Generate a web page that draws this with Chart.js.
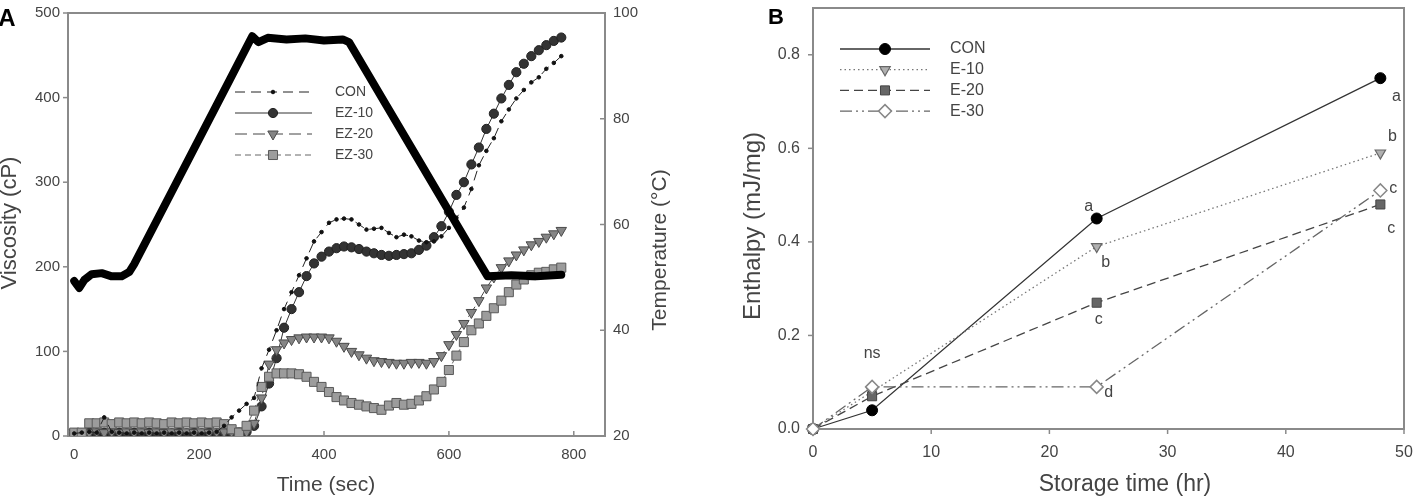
<!DOCTYPE html>
<html>
<head>
<meta charset="utf-8">
<script src="https://cdn.jsdelivr.net/npm/chart.js@4.4.1/dist/chart.umd.min.js"></script>
<style>
  html, body { margin: 0; padding: 0; background: #fff; }
  #wrap { position: relative; width: 1420px; height: 496px; overflow: hidden; }
  #boxA { position: absolute; left: 0; top: 0; width: 700px; height: 496px; }
  #boxB { position: absolute; left: 700px; top: 0; width: 720px; height: 496px; }
</style>
</head>
<body>
<div id="wrap">
  <div id="boxA"><canvas id="chartA" width="700" height="496"></canvas></div>
  <div id="boxB"><canvas id="chartB" width="720" height="496"></canvas></div>
</div>
<script>
// ---- panel A: viscosity profiles (cP) vs time (sec) ----
const timeSec = [0, 12, 24, 36, 48, 60, 72, 84, 96, 108,
  120, 132, 144, 156, 168, 180, 192, 204, 216, 228,
  240, 252, 264, 276, 288, 300, 312, 324, 336, 348,
  360, 372, 384, 396, 408, 420, 432, 444, 456, 468,
  480, 492, 504, 516, 528, 540, 552, 564, 576, 588,
  600, 612, 624, 636, 648, 660, 672, 684, 696, 708,
  720, 732, 744, 756, 768, 780];

const viscCON = [3, 4, 5, 4, 22, 5, 4, 3, 4, 3,
  4, 3, 4, 3, 4, 3, 4, 3, 4, 5,
  12, 22, 30, 38, 45, 80, 102, 125, 150, 170,
  190, 210, 230, 241, 252, 256, 257, 256, 250, 244,
  245, 246, 240, 235, 238, 236, 231, 229, 230, 236,
  246, 258, 270, 292, 320, 337, 352, 372, 386, 399,
  409, 418, 424, 434, 441, 449];

const viscEZ10 = [3, 3, 4, 3, 4, 3, 4, 3, 4, 3,
  4, 3, 4, 3, 4, 3, 4, 3, 4, 3,
  4, 4, 4, 5, 12, 35, 62, 92, 128, 150,
  170, 189, 204, 212, 218, 222, 224, 223, 221, 218,
  216, 214, 213, 214, 215, 216, 220, 225, 235, 248,
  265, 285, 300, 321, 341, 363, 381, 399, 415, 430,
  440, 449, 456, 462, 467, 471];

const viscEZ20 = [4, 5, 4, 5, 4, 5, 4, 5, 4, 5,
  4, 5, 4, 5, 4, 5, 4, 5, 4, 5,
  5, 5, 6, 5, 15, 45, 85, 102, 110, 114,
  116, 117, 117, 117, 116, 112, 106, 100, 96, 92,
  89, 88, 87, 86, 86, 87, 87, 86, 88, 95,
  108, 120, 133, 146, 160, 175, 188, 199, 207, 214,
  220, 226, 230, 235, 239, 243];

const viscEZ30 = [4, 4, 15, 15, 16, 14, 16, 15, 16, 15,
  16, 15, 14, 16, 15, 16, 15, 16, 15, 16,
  14, 8, 4, 12, 30, 58, 70, 74, 74, 74,
  73, 70, 64, 58, 52, 46, 42, 39, 37, 35,
  33, 31, 36, 39, 37, 38, 42, 47, 55, 64,
  78, 95, 111, 125, 133, 142, 151, 160, 170, 179,
  185, 190, 193, 194, 197, 199];

// temperature programme (right axis, deg C)
const tempTime = [0, 8, 16, 28, 44, 60, 76, 88, 96, 150, 200, 250, 285, 295,
  310, 340, 370, 400, 430, 440, 500, 550, 600, 640, 662, 700, 740, 780];
const tempC = [49.3, 48.0, 49.5, 50.6, 50.8, 50.2, 50.2, 51.0, 52.5, 64.8, 76.2, 87.6, 95.6, 94.5,
  95.3, 95.0, 95.2, 94.8, 95.0, 94.5, 82.5, 72.5, 62.5, 54.5, 50.2, 50.4, 50.2, 50.5];

const ticksTimeA = [0, 200, 400, 600, 800];
const ticksViscA = [0, 100, 200, 300, 400, 500];
const ticksTempA = [20, 40, 60, 80, 100];

// ---- panel B: enthalpy (mJ/mg) vs storage time (hr) ----
const storageHr = [0, 5, 24, 48];
const enthCON = [0, 0.04, 0.45, 0.75];
const enthE10 = [0, 0.08, 0.39, 0.59];
const enthE20 = [0, 0.07, 0.27, 0.48];
const enthE30 = [0, 0.09, 0.09, 0.51];

const ticksHrB = [0, 10, 20, 30, 40, 50];
const ticksEnthB = [0, 0.2, 0.4, 0.6, 0.8];

// significance letters, attached to a series and point index
const noteSeries = ["CON", "CON", "E-10", "E-10", "E-20", "E-20", "E-30", "E-30", "E-30"];
const notePoint = [2, 3, 2, 3, 2, 3, 1, 2, 3];
const noteText = ["a", "a", "b", "b", "c", "c", "ns", "d", "c"];

const FONT = '"Liberation Sans", Arial, sans-serif';
const AXIS_GRAY = "#8a8a8a";
Chart.defaults.font.family = FONT;
Chart.defaults.color = "#444";

function pts(xs, ys) {
  return xs.map((x, i) => ({ x, y: ys[i] }));
}

function noPad(s) {
  s.paddingTop = 0;
  s.paddingBottom = 0;
  s.paddingLeft = 0;
  s.paddingRight = 0;
}

function axis(ticksList, extra) {
  return {
    type: "linear",
    grid: { display: false, drawTicks: false },
    border: { display: false },
    afterBuildTicks: (scale) => {
      scale.ticks = ticksList.map((v) => ({ value: v }));
    },
    ...extra,
  };
}

const decorCfg = {
  chartA: {
    tickMarks: [{ id: "x", dir: "in" }, { id: "y", dir: "out" }, { id: "yT", dir: "in" }],
    legend: { x1: 235, x2: 312, xm: 273, xt: 335, y0: 92, dy: 21, font: "14px " + FONT },
    titles: [
      { text: "Viscosity (cP)", x: 10, y: 223, rot: true, font: "22px " + FONT },
      { text: "Time (sec)", x: 326, y: 485, font: "21px " + FONT },
      { text: "Temperature (\u00B0C)", x: 660, y: 250, rot: true, font: "21px " + FONT },
      { text: "A", x: 7, y: 19, font: "bold 24px " + FONT, color: "#000" },
    ],
  },
  chartB: {
    tickMarks: [{ id: "x", dir: "out" }, { id: "y", dir: "out" }],
    legend: { x1: 140, x2: 230, xm: 185, xt: 250, y0: 49, dy: 20.7, font: "16px " + FONT },
    titles: [
      { text: "Enthalpy (mJ/mg)", x: 53, y: 226, rot: true, font: "24px " + FONT },
      { text: "Storage time (hr)", x: 425, y: 485, font: "23px " + FONT },
      { text: "B", x: 76, y: 18, font: "bold 22px " + FONT, color: "#000" },
    ],
    notes: { font: "16px " + FONT, offsets: [[-8, -12], [16, 18], [9, 16], [12, -16], [2, 17], [11, 24], [0, -33], [12, 6], [13, -2]] },
  },
};

const decor = {
  id: "decor",
  beforeDatasetsDraw(chart) {
    const cfg = decorCfg[chart.canvas.id];
    const { ctx, chartArea: a } = chart;
    ctx.save();
    ctx.strokeStyle = AXIS_GRAY;
    ctx.lineWidth = 2;
    ctx.strokeRect(a.left, a.top, a.right - a.left, a.bottom - a.top);
    ctx.lineWidth = 1.5;
    cfg.tickMarks.forEach(({ id, dir }) => {
      const s = chart.scales[id];
      const len = dir === "in" ? -5 : 5;
      s.ticks.forEach((t) => {
        const p = s.getPixelForValue(t.value);
        ctx.beginPath();
        if (s.isHorizontal()) {
          ctx.moveTo(p, a.bottom);
          ctx.lineTo(p, a.bottom + len);
        } else if (s.position === "left") {
          ctx.moveTo(a.left, p);
          ctx.lineTo(a.left - len, p);
        } else {
          ctx.moveTo(a.right, p);
          ctx.lineTo(a.right + len, p);
        }
        ctx.stroke();
      });
    });
    ctx.restore();
  },
  afterDatasetsDraw(chart) {
    const cfg = decorCfg[chart.canvas.id];
    const ctx = chart.ctx;
    ctx.save();

    // legend: line sample + marker + label
    const lg = cfg.legend;
    chart.data.datasets
      .filter((d) => d.legendRank !== undefined)
      .sort((p, q) => p.legendRank - q.legendRank)
      .forEach((d, i) => {
        const y = lg.y0 + i * lg.dy;
        ctx.strokeStyle = d.borderColor;
        ctx.lineWidth = d.borderWidth;
        ctx.setLineDash(d.borderDash || []);
        ctx.beginPath();
        ctx.moveTo(lg.x1, y);
        ctx.lineTo(lg.x2, y);
        ctx.stroke();
        ctx.setLineDash([]);
        ctx.fillStyle = d.pointBackgroundColor;
        ctx.strokeStyle = d.pointBorderColor;
        ctx.lineWidth = d.pointBorderWidth;
        Chart.helpers.drawPoint(ctx, {
          pointStyle: d.pointStyle,
          radius: d.pointRadius,
          rotation: d.pointRotation || 0,
          borderWidth: d.pointBorderWidth,
        }, lg.xm, y);
        ctx.fillStyle = "#444";
        ctx.font = lg.font;
        ctx.textAlign = "left";
        ctx.textBaseline = "middle";
        ctx.fillText(d.label, lg.xt, y);
      });

    // letters beside the points
    if (cfg.notes) {
      ctx.font = cfg.notes.font;
      ctx.fillStyle = "#444";
      ctx.textAlign = "center";
      ctx.textBaseline = "middle";
      noteText.forEach((txt, i) => {
        const di = chart.data.datasets.findIndex((d) => d.label === noteSeries[i]);
        const el = chart.getDatasetMeta(di).data[notePoint[i]];
        const [dx, dy] = cfg.notes.offsets[i];
        ctx.fillText(txt, el.x + dx, el.y + dy);
      });
    }

    // axis titles and panel letter
    cfg.titles.forEach((t) => {
      ctx.save();
      ctx.font = t.font;
      ctx.fillStyle = t.color || "#444";
      ctx.textAlign = "center";
      ctx.textBaseline = "middle";
      ctx.translate(t.x, t.y);
      if (t.rot) ctx.rotate(-Math.PI / 2);
      ctx.fillText(t.text, 0, 0);
      ctx.restore();
    });
    ctx.restore();
  },
};

const common = {
  responsive: false,
  animation: false,
  events: [],
  plugins: { legend: { display: false }, tooltip: { enabled: false } },
};

new Chart(document.getElementById("chartA"), {
  type: "line",
  plugins: [decor],
  data: {
    datasets: [
      {
        label: "Temperature", data: pts(tempTime, tempC), yAxisID: "yT",
        borderColor: "#000", borderWidth: 8, pointRadius: 0,
        borderJoinStyle: "round", borderCapStyle: "round", order: 0,
      },
      {
        label: "CON", data: pts(timeSec, viscCON), yAxisID: "y",
        borderColor: "#222", borderWidth: 1, borderDash: [10, 6],
        pointStyle: "circle", pointRadius: 1.8,
        pointBackgroundColor: "#111", pointBorderColor: "#111", pointBorderWidth: 1,
        order: 1, legendRank: 0,
      },
      {
        label: "EZ-10", data: pts(timeSec, viscEZ10), yAxisID: "y",
        borderColor: "#333", borderWidth: 1,
        pointStyle: "circle", pointRadius: 4.6,
        pointBackgroundColor: "#333", pointBorderColor: "#222", pointBorderWidth: 1,
        order: 4, legendRank: 1,
      },
      {
        label: "EZ-20", data: pts(timeSec, viscEZ20), yAxisID: "y",
        borderColor: "#444", borderWidth: 1, borderDash: [12, 6],
        pointStyle: "triangle", pointRotation: 180, pointRadius: 6,
        pointBackgroundColor: "#858585", pointBorderColor: "#4a4a4a", pointBorderWidth: 1,
        order: 3, legendRank: 2,
      },
      {
        label: "EZ-30", data: pts(timeSec, viscEZ30), yAxisID: "y",
        borderColor: "#666", borderWidth: 1, borderDash: [6, 4],
        pointStyle: "rect", pointRadius: 6.4,
        pointBackgroundColor: "#9c9c9c", pointBorderColor: "#5a5a5a", pointBorderWidth: 1,
        order: 2, legendRank: 3,
      },
    ],
  },
  options: {
    ...common,
    layout: { padding: { top: 13, left: 0, right: 0, bottom: 0 } },
    scales: {
      x: axis(ticksTimeA, {
        position: "bottom", min: -10, max: 850,
        ticks: { font: { size: 15 }, padding: 10, maxRotation: 0 },
        afterFit: (s) => { noPad(s); s.height = 60; },
      }),
      y: axis(ticksViscA, {
        position: "left", min: 0, max: 500,
        ticks: { font: { size: 15 }, padding: 8 },
        afterFit: (s) => { noPad(s); s.width = 68; },
      }),
      yT: axis(ticksTempA, {
        position: "right", min: 20, max: 100,
        ticks: { font: { size: 15 }, padding: 8 },
        afterFit: (s) => { noPad(s); s.width = 95; },
      }),
    },
  },
});

new Chart(document.getElementById("chartB"), {
  type: "line",
  plugins: [decor],
  data: {
    datasets: [
      {
        label: "CON", data: pts(storageHr, enthCON), clip: false,
        borderColor: "#333", borderWidth: 1.3,
        pointStyle: "circle", pointRadius: 5.5,
        pointBackgroundColor: "#000", pointBorderColor: "#000", pointBorderWidth: 1,
        order: 3, legendRank: 0,
      },
      {
        label: "E-10", data: pts(storageHr, enthE10), clip: false,
        borderColor: "#777", borderWidth: 1.3, borderDash: [1.5, 3],
        pointStyle: "triangle", pointRotation: 180, pointRadius: 6,
        pointBackgroundColor: "#b0b0b0", pointBorderColor: "#666", pointBorderWidth: 1.2,
        order: 2, legendRank: 1,
      },
      {
        label: "E-20", data: pts(storageHr, enthE20), clip: false,
        borderColor: "#444", borderWidth: 1.3, borderDash: [9, 5],
        pointStyle: "rect", pointRadius: 6.4,
        pointBackgroundColor: "#666", pointBorderColor: "#444", pointBorderWidth: 1,
        order: 1, legendRank: 2,
      },
      {
        label: "E-30", data: pts(storageHr, enthE30), clip: false,
        borderColor: "#666", borderWidth: 1.3, borderDash: [12, 4, 2, 4, 2, 4],
        pointStyle: "rectRot", pointRadius: 6.5,
        pointBackgroundColor: "#fff", pointBorderColor: "#888", pointBorderWidth: 1.5,
        order: 0, legendRank: 3,
      },
    ],
  },
  options: {
    ...common,
    layout: { padding: { top: 8, left: 0, right: 16, bottom: 0 } },
    scales: {
      x: axis(ticksHrB, {
        position: "bottom", min: 0, max: 50,
        ticks: { font: { size: 16 }, padding: 14, maxRotation: 0 },
        afterFit: (s) => { noPad(s); s.height = 67; },
      }),
      y: axis(ticksEnthB, {
        position: "left", min: 0, max: 0.9,
        ticks: { font: { size: 16 }, padding: 13, callback: (v) => v.toFixed(1) },
        afterFit: (s) => { noPad(s); s.width = 113; },
      }),
    },
  },
});
</script>
</body>
</html>
